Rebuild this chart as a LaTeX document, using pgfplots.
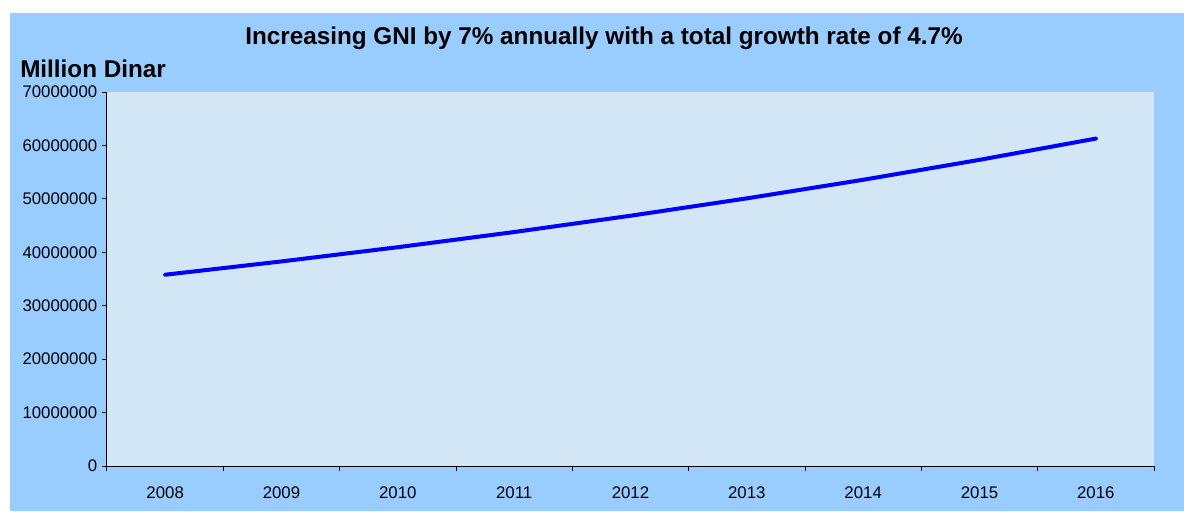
\documentclass[border=0pt]{standalone}
\usepackage{fontspec}
\setmainfont{Liberation Sans}
\usepackage{pgfplots}
\pgfplotsset{compat=1.18}
\definecolor{outerblue}{RGB}{153,204,255}
\definecolor{plotbg}{RGB}{210,230,245}
\begin{document}
\begin{tikzpicture}
\path[use as bounding box] (-80.25pt,-33.75pt) rectangle (807.75pt,349.5pt);
\fill[white] (-80.25pt,-33.75pt) rectangle (807.75pt,349.5pt);
\fill[outerblue] (-72.75pt,-34pt) rectangle (808pt,339.75pt);
\begin{axis}[
  at={(0pt,0pt)}, anchor=south west, scale only axis,
  width=785.25pt, height=280.5pt,
  xmin=-0.5, xmax=8.5, ymin=0, ymax=70000000,
  axis x line*=bottom, axis y line*=left,
  axis line style={black, line width=0.75pt},
  axis background/.style={fill=plotbg},
  xtick={0,1,2,3,4,5,6,7,8},
  xticklabels={2008,2009,2010,2011,2012,2013,2014,2015,2016},
  major x tick style={draw=none},
  minor xtick={-0.5,0.5,1.5,2.5,3.5,4.5,5.5,6.5,7.5,8.5},
  ytick={0,10000000,20000000,30000000,40000000,50000000,60000000,70000000},
  scaled y ticks=false,
  /pgf/number format/assume math mode=true,
  yticklabel style={/pgf/number format/fixed, /pgf/number format/1000 sep={}},
  tick align=outside,
  tick style={black, line width=0.75pt},
  major tick length=3.75pt, minor tick length=3.75pt,
  tick label style={font=\fontsize{12.6}{14}\selectfont},
  xticklabel style={yshift=-8pt},
  clip=false,
]
\addplot[color={rgb,255:red,0;green,0;blue,255}, line width=3pt, line cap=round, line join=round]
  coordinates {(0,35800000) (1,38290000) (2,40950000) (3,43790000) (4,46840000) (5,50090000) (6,53570000) (7,57300000) (8,61280000)};
\end{axis}
\node[anchor=base, font=\bfseries\fontsize{18.2}{20}\selectfont] at (372.75pt,316pt) {Increasing GNI by 7\% annually with a total growth rate of 4.7\%};
\node[anchor=base west, inner sep=0pt, font=\bfseries\fontsize{18.2}{20}\selectfont] at (-65.25pt,291pt) {Million Dinar};
\end{tikzpicture}
\end{document}
